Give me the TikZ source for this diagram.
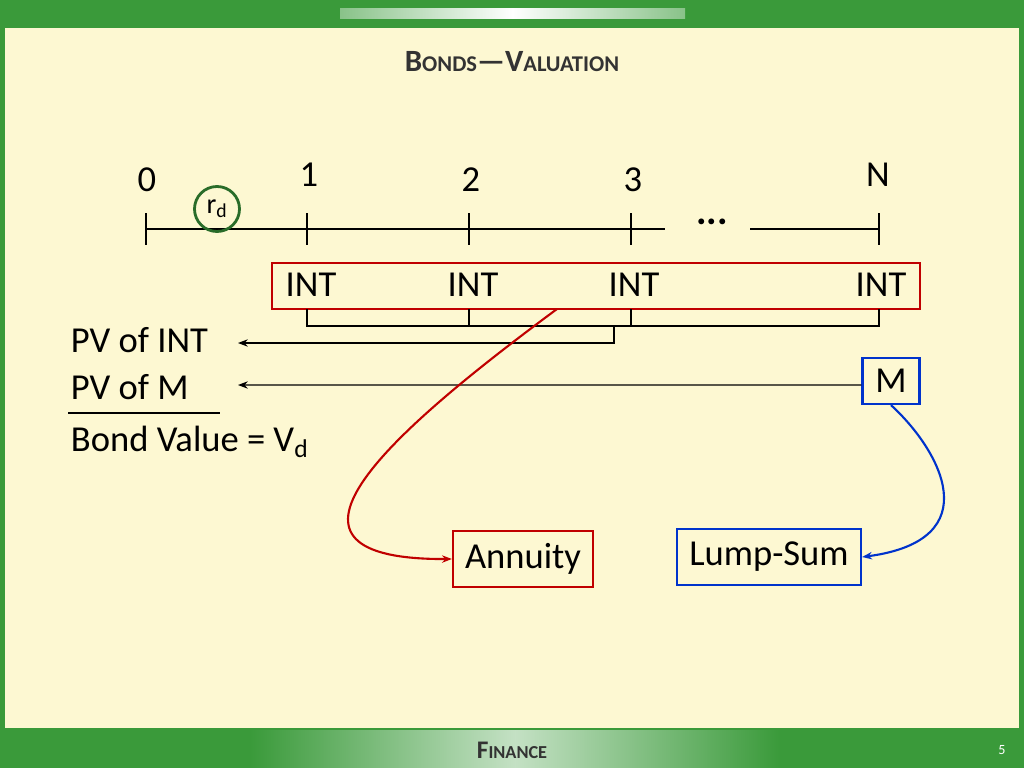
\documentclass[tikz,border=0pt]{standalone}
\usepackage{fontspec}
\setmainfont{Carlito}
\usetikzlibrary{arrows.meta}
\definecolor{bg}{HTML}{FDF8D2}
\definecolor{frame}{HTML}{3A9A3A}
\definecolor{annred}{HTML}{C00000}
\definecolor{lumpblue}{HTML}{0033CC}
\newcommand{\fakesc}[2]{{\fontsize{#1}{#1}\selectfont #2}}
\tikzset{
  lbl/.style={font=\fontsize{26}{30}\selectfont},
  box/.style={draw=#1, line width=1.6pt, inner sep=0pt},
  tick/.style={line width=0.8pt},
  arr/.style={-{Stealth[length=7pt]}, line width=0.8pt}
}
\begin{document}
\begin{tikzpicture}[x=0.025cm,y=-0.025cm]
  % frame and background
  \fill[frame] (0,0) rectangle (1024,768);
  \fill[bg] (5,28) rectangle (1019,728);
  \shade[left color=frame!60, right color=frame!60, middle color=white] (340,9) rectangle (685,19);
  \shade[left color=frame, right color=frame, middle color=frame!30] (250,730) rectangle (780,768);
  \node (title) at (512,62) {\bfseries\color{black!80}\fontsize{22}{26}\selectfont B\fakesc{16}{ONDS}---V\fakesc{16}{ALUATION}};
  \node (foot) at (512,750) {\bfseries\color{black!80}\fontsize{18}{22}\selectfont F\fakesc{13}{INANCE}};
  \node (page) at (1002,750) {\fontsize{10}{12}\selectfont\color{white}5};
  % time line
  \draw[tick] (146,229) -- (665,229);
  \draw[tick] (750,229) -- (879,229);
  \foreach \x in {146,307,469,631,879}
    \draw[tick] (\x,213) -- (\x,245);
  \node (dots) at (712,222) {\fontsize{28}{30}\selectfont\bfseries...};
  \node[lbl] (t0) at (147,180) {0};
  \node[lbl] (t1) at (309,175) {1};
  \node[lbl] (t2) at (471,180) {2};
  \node[lbl] (t3) at (633,180) {3};
  \node[lbl] (tN) at (878,175) {N};
  \node[circle, draw=frame!70!black, line width=2pt, minimum size=32pt, inner sep=0pt,
        font=\fontsize{20}{22}\selectfont] (rate) at (217,209) {r\textsubscript{d}};
  % payments
  \node[box=annred, minimum width=648*0.025cm, minimum height=46*0.025cm] (ints) at (596,286) {};
  \foreach \x/\n in {311/a,473/b,634/c,881/d}
    \node[lbl] (int\n) at (\x,285) {INT};
  \draw[tick] (307,309) -- (307,326) -- (879,326) -- (879,309);
  \foreach \x in {469,631}
    \draw[tick] (\x,309) -- (\x,326);
  \coordinate (sum) at (614,326);
  \node[lbl, anchor=west] (pvint) at (66,340) {PV of INT};
  \node[lbl, anchor=west] (pvm) at (66,387) {PV of M};
  \node[lbl, anchor=west] (bv) at (66,442) {Bond Value = V\textsubscript{d}};
  \draw[line width=0.8pt] (68,413) -- (220,413);
  \draw[arr] (sum) -- (614,343) -- (238,343);
  \node[box=lumpblue, lbl, minimum width=57*0.025cm, minimum height=46*0.025cm] (mbox) at (891,381) {M};
  \draw[arr] ([yshift=-2.8pt]mbox.west) -- (238,385);
  \node[box=annred, lbl, minimum width=140*0.025cm, minimum height=56*0.025cm] (annuity) at (523,559) {Annuity};
  \node[box=lumpblue, lbl, minimum width=184*0.025cm, minimum height=56*0.025cm] (lump) at (769,557) {Lump-Sum};
  \draw[arr, annred, line width=1.5pt] (557,309) .. controls (380,440) and (250,560) .. (annuity.west);
  \draw[arr, lumpblue, line width=1.5pt] (mbox.south) .. controls (940,450) and (990,540) .. (lump.east);
\end{tikzpicture}
\end{document}
